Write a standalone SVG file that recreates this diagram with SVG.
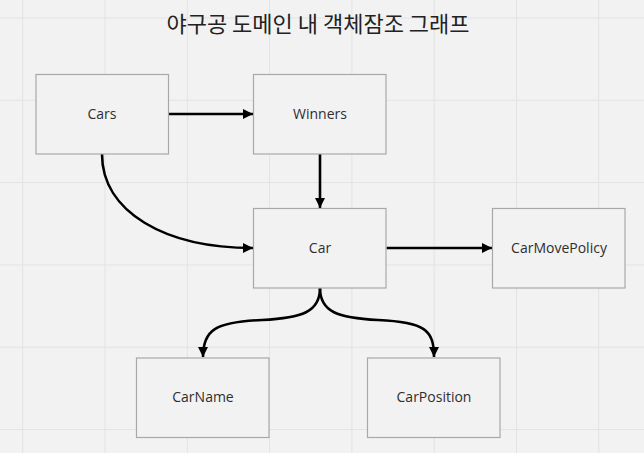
<svg xmlns="http://www.w3.org/2000/svg" width="644" height="453" viewBox="0 0 644 453">
<defs>
<style>
.bg{fill:#f2f2f2}
.grid line{stroke:#e3e3e3;stroke-width:1}
.node rect{fill:#f2f2f2;stroke:#a8a8a8;stroke-width:1.2}
.node text{font-family:"Open Sans","Noto Sans",sans-serif;font-size:14px;fill:#2e2e2e;text-anchor:middle;dominant-baseline:central}
.edges path{fill:none;stroke:#000;stroke-width:2.6;marker-end:url(#arr)}
.title{font-family:"Noto Sans CJK KR","Noto Sans",sans-serif;font-size:22px;fill:#222222;text-anchor:middle}
</style>
<marker id="arr" viewBox="0 0 10 10" refX="10" refY="5" markerWidth="4" markerHeight="4" orient="auto" markerUnits="strokeWidth">
<path d="M0,0 L10,5 L0,10 Z" fill="#000"/>
</marker>
</defs>
<rect class="bg" x="0" y="0" width="644" height="453"/>
<g class="grid">
<line x1="22.7" y1="0" x2="22.7" y2="453"/>
<line x1="105" y1="0" x2="105" y2="453"/>
<line x1="187.3" y1="0" x2="187.3" y2="453"/>
<line x1="269.6" y1="0" x2="269.6" y2="453"/>
<line x1="351.9" y1="0" x2="351.9" y2="453"/>
<line x1="434.2" y1="0" x2="434.2" y2="453"/>
<line x1="516.5" y1="0" x2="516.5" y2="453"/>
<line x1="598.8" y1="0" x2="598.8" y2="453"/>
<line x1="0" y1="18" x2="644" y2="18"/>
<line x1="0" y1="100.3" x2="644" y2="100.3"/>
<line x1="0" y1="182.6" x2="644" y2="182.6"/>
<line x1="0" y1="264.9" x2="644" y2="264.9"/>
<line x1="0" y1="347.2" x2="644" y2="347.2"/>
<line x1="0" y1="429.5" x2="644" y2="429.5"/>
</g>
<text class="title" x="318" y="32">야구공 도메인 내 객체잠조 그래프</text>
<g class="edges">
<path d="M168.5,114 L253,114"/>
<path d="M320,154 L320,208"/>
<path d="M102,154 C102,212 165,248 253,248"/>
<path d="M386.5,248 L492,248"/>
<path d="M320,288 C320,312 302,318 262,320 C215,322 203,330 203,357"/>
<path d="M320,288 C320,312 338,318 378,320 C425,322 434,330 434,357"/>
</g>
<g id="node-cars" class="node"><rect x="36" y="74.5" width="132.5" height="79.5"/><text x="102" y="113.5">Cars</text></g>
<g id="node-winners" class="node"><rect x="253.5" y="74.5" width="132.5" height="79.5"/><text x="320" y="113.5">Winners</text></g>
<g id="node-car" class="node"><rect x="253.5" y="208.5" width="132.5" height="79.5"/><text x="320" y="247.5">Car</text></g>
<g id="node-carmovepolicy" class="node"><rect x="492.5" y="208.5" width="132.5" height="79.5"/><text x="559" y="247.5">CarMovePolicy</text></g>
<g id="node-carname" class="node"><rect x="136.5" y="358" width="132.5" height="79.5"/><text x="203" y="396.5">CarName</text></g>
<g id="node-carposition" class="node"><rect x="367.5" y="358" width="132.5" height="79.5"/><text x="434" y="396.5">CarPosition</text></g>
</svg>
